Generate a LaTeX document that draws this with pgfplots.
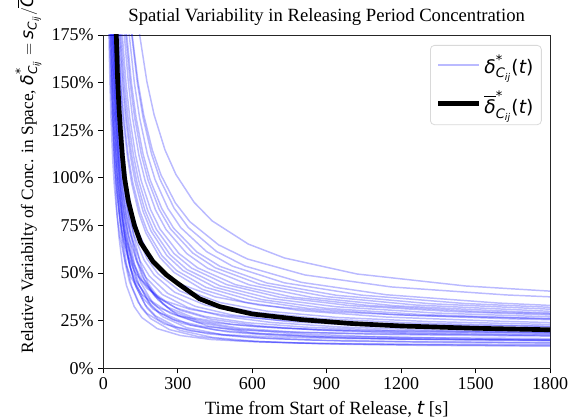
\documentclass[border=0pt]{standalone}
\usepackage{amsmath}
\usepackage{fontspec}
\setmainfont{Liberation Serif}
\newfontfamily\dv{DejaVu Sans}
\usepackage{pgfplots}
\pgfplotsset{compat=1.18}

% DejaVu pieces for the mathtext look
\newcommand{\dvi}[1]{\text{\dv\itshape #1}}
\newcommand{\dvr}[1]{\text{\dv #1}}
\newcommand{\Cij}{\dvi{C}_{\dvi{ij}}}

\pgfplotsset{
  bl/.style={color=blue, line width=1.1pt, opacity=0.27, forget plot},
}

\begin{document}
\begin{tikzpicture}
\begin{axis}[
    name=ax,
    scale only axis, width=335pt, height=250pt,
    xmin=0, xmax=1800, ymin=0, ymax=175,
    xtick={0,300,...,1800}, ytick={0,25,...,175},
    yticklabel={\pgfmathprintnumber{\tick}\%},
    /pgf/number format/assume math mode=true,
    /pgf/number format/1000 sep={},
    tick align=outside, tick pos=left, major tick length=3.75pt,
    tick style={black, line width=0.6pt},
    axis line style={black!85, line width=0.6pt},
    ticklabel style={font=\fontsize{13.5}{16}\selectfont},
    title={Spatial Variability in Releasing Period Concentration},
    title style={font=\fontsize{14}{16}\selectfont, at={(axis description cs:0.5,1)}, anchor=base, yshift=3.75pt},
    xlabel={Time from Start of Release, $\dvi{t}$ [s]},
    xlabel style={font=\fontsize{14}{16}\selectfont, at={(axis description cs:0.5,0)}, anchor=base, yshift=-34.5pt},
    ylabel={Relative Variabilty of Conc. in Space, $\dvi{δ}^{\dvr{*}}_{\Cij} = \dvi{s}_{\Cij}/\overline{\dvi{C}}_{\dvi{j}}$},
    ylabel style={font=\fontsize{13}{15}\selectfont, at={(axis description cs:-0.168,0.03)}, anchor=west},
    legend style={at={(axis description cs:0.9815,0.97)}, anchor=north east,
      draw=black!15, rounded corners=3pt, line width=0.6pt,
      font=\fontsize{14}{16}\selectfont, row sep=8pt, inner xsep=4pt, inner ysep=5pt},
    legend cell align=left,
    legend image code/.code={\draw[#1] (0pt,0pt) -- (31pt,0pt);},
]
% individual locations, slow decay
\addplot[color=blue, line width=1.1pt, opacity=0.27] coordinates {(124,200.8) (146,175) (175,150.6) (204,133.2) (248,114.7) (292,101.8) (365,87.2) (438,77.4) (584,65.2) (730,57.9) (1022,49.5) (1460,43.2) (1800,40.5)};
\addlegendentry{$\dvi{δ}^{\dvr{*}}_{\Cij}\dvr{(}\dvi{t}\dvr{)}$}
\addplot[bl] coordinates {(98.6,200.9) (116,175) (139.2,150.5) (162.4,133) (197.2,114.5) (232,101.5) (290,86.8) (348,77) (464,64.8) (580,57.4) (812,49) (1160,42.7) (1624,38.5) (1800,37.5)};
\addplot[bl] coordinates {(96.9,201.8) (114,175) (136.8,149.7) (159.6,131.7) (193.8,112.6) (228,99.2) (285,84.0) (342,73.9) (456,61.3) (570,53.7) (798,45.1) (1140,38.6) (1596,34.2) (1800,33.0)};
\addplot[bl] coordinates {(88.4,201.8) (104,175) (124.8,149.7) (145.6,131.6) (176.8,112.5) (208,99.1) (260,83.9) (312,73.8) (416,61.2) (520,53.6) (728,44.9) (1040,38.4) (1456,34.0) (1800,32.0)};
\addplot[bl] coordinates {(79.9,201.8) (94,175) (112.8,149.7) (131.6,131.6) (159.8,112.4) (188,99.0) (235,83.9) (282,73.7) (376,61.1) (470,53.5) (658,44.8) (940,38.3) (1316,33.9) (1800,31.0)};
\addplot[bl] coordinates {(76.5,202) (90,175) (108,149.5) (126,131.4) (153,112.1) (180,98.7) (225,83.4) (270,73.2) (360,60.5) (450,52.8) (630,44.1) (900,37.6) (1260,33.2) (1800,29.9)};
\addplot[bl] coordinates {(71.4,202) (84,175) (100.8,149.5) (117.6,131.3) (142.8,112.0) (168,98.5) (210,83.1) (252,72.9) (336,60.2) (420,52.5) (588,43.8) (840,37.2) (1176,32.8) (1680,29.6) (1800,29.0)};
\addplot[bl] coordinates {(64.6,202) (76,175) (91.2,149.5) (106.4,131.3) (129.2,112.0) (152,98.6) (190,83.3) (228,73.1) (304,60.3) (380,52.7) (532,43.9) (760,37.4) (1064,33.0) (1520,29.7) (1800,28.6)};
\addplot[bl] coordinates {(60.4,202) (71,175) (85.2,149.5) (99.4,131.3) (120.7,112.0) (142,98.5) (177.5,83.2) (213,73.0) (284,60.3) (355,52.6) (497,43.9) (710,37.3) (994,32.9) (1420,29.7) (1800,28.0)};
\addplot[bl] coordinates {(57,202.1) (67,175) (80.4,149.4) (93.8,131.1) (113.9,111.7) (134,98.2) (167.5,82.8) (201,72.5) (268,59.7) (335,52.0) (469,43.3) (670,36.7) (938,32.3) (1340,29.0) (1800,27.0)};
\addplot[bl] coordinates {(54.4,202.3) (64,175) (76.8,149.2) (89.6,130.9) (108.8,111.4) (128,97.8) (160,82.3) (192,72.0) (256,59.1) (320,51.4) (448,42.6) (640,36.0) (896,31.5) (1280,28.2) (1800,26.0)};
\addplot[bl] coordinates {(50.2,202.3) (59,175) (70.8,149.2) (82.6,130.8) (100.3,111.3) (118,97.7) (147.5,82.2) (177,71.9) (236,59.1) (295,51.3) (413,42.5) (590,35.9) (826,31.4) (1180,28.1) (1652,25.9) (1800,25.5)};
\addplot[bl] coordinates {(48.5,202.5) (57,175) (68.4,149.0) (79.8,130.5) (96.9,110.8) (114,97.1) (142.5,81.5) (171,71.1) (228,58.1) (285,50.3) (399,41.4) (570,34.7) (798,30.2) (1140,26.9) (1596,24.7) (1800,24.0)};
\addplot[bl] coordinates {(38.3,202) (45,175) (54,149.5) (63,131.3) (76.5,112.1) (90,98.6) (112.5,83.3) (135,73.1) (180,60.4) (225,52.8) (315,44.0) (450,37.5) (630,33.1) (900,29.8) (1260,27.7) (1800,26.0)};
\addplot[bl] coordinates {(40,202.5) (47,175) (56.4,149.0) (65.8,130.4) (79.9,110.7) (94,97.0) (117.5,81.3) (141,70.9) (188,57.9) (235,50.1) (329,41.2) (470,34.5) (658,30.0) (940,26.7) (1316,24.5) (1800,23.0)};
\addplot[bl] coordinates {(37.4,202.7) (44,175) (52.8,148.9) (61.6,130.2) (74.8,110.4) (88,96.6) (110,80.9) (132,70.5) (176,57.4) (220,49.6) (308,40.6) (440,33.9) (616,29.4) (880,26.0) (1232,23.8) (1760,22.1) (1800,22.0)};
\addplot[bl] coordinates {(34.9,202.8) (41,175) (49.2,148.7) (57.4,130.0) (69.7,110.1) (82,96.2) (102.5,80.4) (123,69.9) (164,56.8) (205,48.9) (287,39.9) (410,33.2) (574,28.7) (820,25.3) (1148,23.0) (1640,21.3) (1800,21.0)};
\addplot[bl] coordinates {(31.5,202.9) (37,175) (44.4,148.6) (51.8,129.8) (62.9,109.8) (74,95.9) (92.5,80.0) (111,69.5) (148,56.3) (185,48.4) (259,39.3) (370,32.5) (518,28.0) (740,24.6) (1036,22.4) (1480,20.7) (1800,20.0)};
\addplot[bl] coordinates {(28.9,203.1) (34,175) (40.8,148.5) (47.6,129.6) (57.8,109.5) (68,95.5) (85,79.6) (102,69.0) (136,55.8) (170,47.8) (238,38.7) (340,31.9) (476,27.4) (680,24.0) (952,21.7) (1360,20.0) (1800,19.0)};
\addplot[bl] coordinates {(24.7,203.1) (29,175) (34.8,148.5) (40.6,129.5) (49.3,109.5) (58,95.5) (72.5,79.5) (87,68.9) (116,55.7) (145,47.7) (203,38.6) (290,31.8) (406,27.3) (580,23.9) (812,21.6) (1160,19.9) (1800,18.5)};
\addplot[bl] coordinates {(26.4,203.4) (31,175) (37.2,148.2) (43.4,129.1) (52.7,108.8) (62,94.7) (77.5,78.6) (93,67.9) (124,54.5) (155,46.4) (217,37.3) (310,30.4) (434,25.8) (620,22.3) (868,20.0) (1240,18.3) (1800,17.1)};
\addplot[bl] coordinates {(18.7,203.1) (22,175) (26.4,148.5) (30.8,129.6) (37.4,109.6) (44,95.6) (55,79.7) (66,69.1) (88,55.8) (110,47.9) (154,38.8) (220,32.0) (308,27.4) (440,24.0) (616,21.8) (880,20.1) (1232,18.9) (1800,18.0)};
\addplot[bl] coordinates {(23,203.7) (27,175) (32.4,147.9) (37.8,128.6) (45.9,108.1) (54,93.8) (67.5,77.5) (81,66.7) (108,53.1) (135,45.0) (189,35.7) (270,28.8) (378,24.1) (540,20.6) (756,18.3) (1080,16.6) (1512,15.4) (1800,14.9)};
\addplot[bl] coordinates {(21.3,202.4) (25,175) (30,149.1) (35,130.7) (42.5,111.1) (50,97.4) (62.5,81.9) (75,71.5) (100,58.6) (125,50.8) (175,42.0) (250,35.3) (350,30.9) (500,27.6) (700,25.3) (1000,23.7) (1400,22.6) (1800,22.0)};
% individual locations, fast decay
\addplot[bl] coordinates {(26.4,220) (31,175) (37.2,136) (43.4,110.4) (52.7,85.5) (62,69.6) (77.5,53.2) (93,43.4) (124,32.4) (155,26.6) (217,20.8) (310,17.2) (434,15.1) (620,13.8) (868,13.1) (1240,12.6) (1800,12.4)};
\addplot[bl] coordinates {(32.3,220.1) (38,175) (45.6,135.9) (53.2,110.2) (64.6,85.3) (76,69.3) (95,52.9) (114,43.0) (152,31.9) (190,26.1) (266,20.3) (380,16.7) (532,14.6) (760,13.3) (1064,12.6) (1520,12.1) (1800,12.0)};
\addplot[bl] coordinates {(35.7,219.7) (42,175) (50.4,136.2) (58.8,110.8) (71.4,86.1) (84,70.3) (105,54.0) (126,44.2) (168,33.3) (210,27.5) (294,21.7) (420,18.1) (588,16.1) (840,14.8) (1176,14.1) (1680,13.6) (1800,13.6)};
\addplot[bl] coordinates {(42.5,219.4) (50,175) (60,136.5) (70,111.2) (85,86.6) (100,70.9) (125,54.7) (150,45.0) (200,34.1) (250,28.4) (350,22.7) (500,19.1) (700,17.1) (1000,15.8) (1400,15.1) (1800,14.7)};
\addplot[bl] coordinates {(38.3,219.2) (45,175) (54,136.7) (63,111.6) (76.5,87.2) (90,71.6) (112.5,55.5) (135,45.8) (180,35.0) (225,29.3) (315,23.6) (450,20.1) (630,18.1) (900,16.8) (1260,16.1) (1800,15.6)};
\addplot[bl] coordinates {(46.8,218.9) (55,175) (66,137) (77,112) (93.5,87.7) (110,72.2) (137.5,56.2) (165,46.6) (220,35.9) (275,30.2) (385,24.6) (550,21.0) (770,19.0) (1100,17.8) (1540,17.1) (1800,16.9)};
\addplot[bl] coordinates {(51,219.6) (60,175) (72,136.4) (84,111.0) (102,86.4) (120,70.6) (150,54.4) (180,44.6) (240,33.7) (300,27.9) (420,22.2) (600,18.6) (840,16.6) (1200,15.3) (1800,14.5)};
\addplot[bl] coordinates {(34,218.6) (40,175) (48,137.2) (56,112.4) (68,88.3) (80,72.9) (100,57.0) (120,47.4) (160,36.8) (200,31.1) (280,25.5) (400,22.0) (560,20.0) (800,18.8) (1120,18.1) (1600,17.6) (1800,17.5)};
\addplot[bl] coordinates {(40.8,219.9) (48,175) (57.6,136.1) (67.2,110.6) (81.6,85.8) (96,70.0) (120,53.6) (144,43.8) (192,32.8) (240,27.0) (336,21.3) (480,17.6) (672,15.6) (960,14.3) (1344,13.6) (1800,13.2)};
\addplot[bl] coordinates {(29.8,219.3) (35,175) (42,136.6) (49,111.4) (59.5,86.9) (70,71.3) (87.5,55.1) (105,45.4) (140,34.6) (175,28.8) (245,23.2) (350,19.6) (490,17.6) (700,16.3) (980,15.6) (1400,15.1) (1800,14.9)};
\addplot[bl] coordinates {(44.2,218.3) (52,175) (62.4,137.4) (72.8,112.8) (88.4,88.8) (104,73.5) (130,57.7) (156,48.2) (208,37.6) (260,32.0) (364,26.5) (520,23.0) (728,21.0) (1040,19.8) (1456,19.1) (1800,18.8)};
\addplot[bl] coordinates {(37.4,220.3) (44,175) (52.8,135.8) (61.6,110) (74.8,85) (88,69) (110,52.5) (132,42.6) (176,31.5) (220,25.7) (308,19.9) (440,16.2) (616,14.1) (880,12.8) (1232,12.1) (1760,11.6) (1800,11.6)};
% mean over locations
\addplot[black, line width=3.5pt] coordinates {(40,230) (45,200) (50,183) (53,170) (57,152) (63,136) (69,124) (76,112) (85,100) (100,88) (125,75) (150,66) (200,56) (254,49) (300,44.5) (387,36.5) (470,32.3) (600,28.5) (800,25.5) (1000,23.5) (1200,22.2) (1500,21) (1800,20.2)};
\addlegendentry{$\overline{\dvi{δ}}^{\dvr{*}}_{\Cij}\dvr{(}\dvi{t}\dvr{)}$}
\end{axis}
\pgfresetboundingbox
\path[use as bounding box] ([xshift=-77.6pt,yshift=-38pt]ax.south west) rectangle ([xshift=20.25pt,yshift=26.25pt]ax.north east);
\end{tikzpicture}
\end{document}
